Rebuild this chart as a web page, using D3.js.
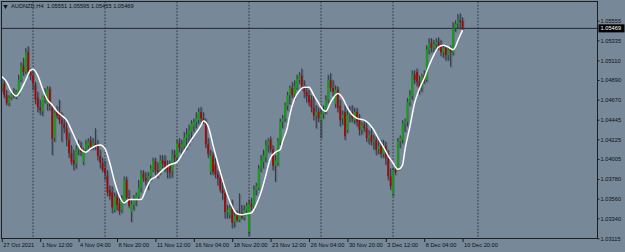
<!DOCTYPE html>
<html>
<head>
<meta charset="utf-8">
<script src="https://cdn.jsdelivr.net/npm/d3@7"></script>
<style>
  html, body { margin: 0; padding: 0; background: #778899; }
  svg { display: block; }
  text { font-family: "Liberation Sans", Arial, sans-serif; }
</style>
</head>
<body>
<svg id="chart" width="625" height="252"></svg>
<script>
// AUDNZD H4, one value per bar: bar 0 = 27 Oct 20:00 ... bar 192 = 10 Dec 20:00
const open = [
  1.0480,1.0485,1.0472,1.0463,1.0469,1.0473,1.0471,1.0476,1.0489,1.0505,
  1.0498,1.0520,1.0498,1.0494,1.0483,1.0469,1.0458,1.0454,1.0472,1.0462,
  1.0479,1.0458,1.0424,1.0455,1.0453,1.0444,1.0440,1.0435,1.0422,1.0407,
  1.0399,1.0395,1.0411,1.0415,1.0397,1.0411,1.0415,1.0421,1.0415,1.0418,
  1.0415,1.0404,1.0396,1.0390,1.0381,1.0366,1.0363,1.0343,1.0358,1.0350,
  1.0343,1.0352,1.0377,1.0357,1.0341,1.0349,1.0355,1.0358,1.0368,1.0384,
  1.0379,1.0377,1.0381,1.0388,1.0398,1.0388,1.0388,1.0399,1.0398,1.0390,
  1.0393,1.0387,1.0405,1.0402,1.0418,1.0413,1.0415,1.0424,1.0428,1.0431,
  1.0437,1.0442,1.0444,1.0453,1.0446,1.0441,1.0417,1.0386,1.0404,1.0394,
  1.0383,1.0379,1.0366,1.0362,1.0341,1.0338,1.0347,1.0330,1.0337,1.0332,
  1.0339,1.0335,1.0343,1.0319,1.0350,1.0347,1.0366,1.0368,1.0390,1.0397,
  1.0402,1.0416,1.0422,1.0411,1.0393,1.0396,1.0420,1.0442,1.0446,1.0460,
  1.0472,1.0480,1.0472,1.0480,1.0489,1.0494,1.0482,1.0476,1.0472,1.0467,
  1.0458,1.0449,1.0453,1.0444,1.0451,1.0455,1.0467,1.0489,1.0480,1.0462,
  1.0478,1.0460,1.0446,1.0453,1.0433,1.0450,1.0453,1.0444,1.0453,1.0444,
  1.0433,1.0439,1.0435,1.0424,1.0427,1.0420,1.0422,1.0411,1.0415,1.0406,
  1.0415,1.0402,1.0381,1.0361,1.0388,1.0390,1.0420,1.0422,1.0440,1.0442,
  1.0464,1.0471,1.0495,1.0498,1.0487,1.0480,1.0494,1.0489,1.0523,1.0530,
  1.0525,1.0529,1.0532,1.0527,1.0520,1.0525,1.0517,1.0523,1.0520,1.0547,
  1.0552,1.0556,1.05551
];
const high = [
  1.0491,1.0489,1.0478,1.0472,1.0476,1.0480,1.0478,1.0495,1.0509,1.0514,
  1.0525,1.0527,1.0502,1.0500,1.0487,1.0476,1.0467,1.0467,1.0480,1.0482,
  1.0482,1.0461,1.0455,1.0460,1.0467,1.0453,1.0446,1.0442,1.0430,1.0416,
  1.0411,1.0416,1.0422,1.0420,1.0413,1.0422,1.0424,1.0426,1.0424,1.0435,
  1.0422,1.0411,1.0402,1.0399,1.0388,1.0371,1.0370,1.0363,1.0366,1.0357,
  1.0360,1.0381,1.0381,1.0366,1.0355,1.0360,1.0363,1.0377,1.0388,1.0388,
  1.0386,1.0386,1.0394,1.0402,1.0402,1.0397,1.0405,1.0405,1.0405,1.0399,
  1.0399,1.0411,1.0411,1.0422,1.0424,1.0422,1.0431,1.0435,1.0439,1.0444,
  1.0446,1.0453,1.0458,1.0459,1.0453,1.0446,1.0424,1.0411,1.0408,1.0402,
  1.0388,1.0386,1.0375,1.0368,1.0349,1.0349,1.0355,1.0341,1.0343,1.0362,
  1.0349,1.0349,1.0352,1.0355,1.0357,1.0371,1.0374,1.0394,1.0405,1.0411,
  1.0422,1.0424,1.0426,1.0416,1.0405,1.0424,1.0446,1.0450,1.0464,1.0476,
  1.0483,1.0487,1.0489,1.0495,1.0498,1.0502,1.0489,1.0483,1.0478,1.0472,
  1.0472,1.0461,1.0458,1.0458,1.0461,1.0472,1.0495,1.0497,1.0489,1.0483,
  1.0482,1.0467,1.0455,1.0461,1.0455,1.0460,1.0461,1.0458,1.0458,1.0451,
  1.0442,1.0444,1.0442,1.0433,1.0435,1.0428,1.0426,1.0422,1.0422,1.0422,
  1.0420,1.0411,1.0390,1.0391,1.0394,1.0424,1.0427,1.0444,1.0446,1.0469,
  1.0478,1.0500,1.0500,1.0502,1.0494,1.0496,1.0500,1.0528,1.0536,1.0536,
  1.0534,1.0536,1.0537,1.0534,1.0529,1.0529,1.0527,1.0528,1.0554,1.0556,
  1.0563,1.0564,1.05595
];
const low = [
  1.0476,1.0469,1.0461,1.0460,1.0467,1.0469,1.0468,1.0472,1.0487,1.0494,
  1.0496,1.0494,1.0489,1.0478,1.0462,1.0453,1.0450,1.0449,1.0463,1.0455,
  1.0455,1.0405,1.0420,1.0446,1.0440,1.0420,1.0430,1.0415,1.0402,1.0394,
  1.0388,1.0390,1.0405,1.0404,1.0394,1.0408,1.0411,1.0411,1.0411,1.0411,
  1.0399,1.0390,1.0386,1.0377,1.0359,1.0355,1.0340,1.0341,1.0343,1.0338,
  1.0340,1.0350,1.0355,1.0346,1.0330,1.0343,1.0348,1.0355,1.0363,1.0375,
  1.0371,1.0366,1.0375,1.0386,1.0383,1.0379,1.0383,1.0390,1.0386,1.0379,
  1.0379,1.0380,1.0397,1.0397,1.0408,1.0405,1.0411,1.0411,1.0416,1.0422,
  1.0431,1.0435,1.0440,1.0442,1.0440,1.0413,1.0402,1.0383,1.0383,1.0379,
  1.0371,1.0363,1.0355,1.0334,1.0334,1.0334,1.0323,1.0324,1.0330,1.0330,
  1.0333,1.0332,1.0338,1.0315,1.0343,1.0344,1.0360,1.0366,1.0386,1.0390,
  1.0397,1.0408,1.0408,1.0388,1.0375,1.0393,1.0416,1.0435,1.0442,1.0455,
  1.0462,1.0469,1.0467,1.0478,1.0485,1.0478,1.0469,1.0464,1.0460,1.0453,
  1.0444,1.0435,1.0442,1.0424,1.0446,1.0451,1.0463,1.0476,1.0471,1.0458,
  1.0453,1.0437,1.0439,1.0422,1.0430,1.0442,1.0442,1.0440,1.0437,1.0427,
  1.0428,1.0431,1.0420,1.0417,1.0416,1.0411,1.0405,1.0406,1.0402,1.0402,
  1.0394,1.0377,1.0366,1.0359,1.0383,1.0388,1.0413,1.0418,1.0431,1.0437,
  1.0460,1.0467,1.0485,1.0482,1.0473,1.0476,1.0485,1.0487,1.0518,1.0520,
  1.0520,1.0523,1.0523,1.0516,1.0514,1.0511,1.0511,1.0504,1.0517,1.0543,
  1.0547,1.0547,1.05455
];
const close = [
  1.0487,1.0472,1.0463,1.0469,1.0473,1.0471,1.0476,1.0489,1.0505,1.0498,
  1.0520,1.0498,1.0494,1.0485,1.0467,1.0458,1.0455,1.0472,1.0469,1.0479,
  1.0460,1.0423,1.0452,1.0449,1.0444,1.0440,1.0435,1.0422,1.0407,1.0397,
  1.0395,1.0411,1.0415,1.0408,1.0411,1.0417,1.0420,1.0414,1.0418,1.0415,
  1.0404,1.0396,1.0388,1.0384,1.0363,1.0359,1.0346,1.0358,1.0349,1.0342,
  1.0355,1.0377,1.0357,1.0348,1.0350,1.0356,1.0360,1.0368,1.0384,1.0379,
  1.0376,1.0381,1.0390,1.0398,1.0388,1.0386,1.0399,1.0395,1.0390,1.0388,
  1.0385,1.0405,1.0402,1.0418,1.0413,1.0417,1.0425,1.0428,1.0433,1.0440,
  1.0442,1.0446,1.0453,1.0446,1.0443,1.0417,1.0406,1.0404,1.0386,1.0383,
  1.0379,1.0366,1.0362,1.0341,1.0343,1.0346,1.0329,1.0337,1.0332,1.0339,
  1.0335,1.0343,1.0348,1.0350,1.0347,1.0366,1.0370,1.0390,1.0399,1.0404,
  1.0416,1.0420,1.0411,1.0393,1.0399,1.0421,1.0442,1.0446,1.0461,1.0472,
  1.0480,1.0472,1.0482,1.0490,1.0494,1.0482,1.0476,1.0471,1.0464,1.0458,
  1.0449,1.0453,1.0446,1.0451,1.0455,1.0467,1.0489,1.0480,1.0476,1.0478,
  1.0458,1.0444,1.0450,1.0426,1.0450,1.0453,1.0446,1.0453,1.0442,1.0433,
  1.0439,1.0435,1.0424,1.0427,1.0420,1.0422,1.0411,1.0415,1.0406,1.0415,
  1.0402,1.0381,1.0370,1.0388,1.0386,1.0420,1.0424,1.0440,1.0443,1.0464,
  1.0472,1.0495,1.0489,1.0487,1.0480,1.0494,1.0489,1.0523,1.0530,1.0525,
  1.0529,1.0532,1.0527,1.0520,1.0525,1.0517,1.0523,1.0520,1.0547,1.0552,
  1.0556,1.0554,1.05469
];

// white moving average, sampled at these bars
const maBars = [0,2,4,6,8,10,12,13,15,17,19,21,23,25,27,29,31,33,35,37,39,41,43,45,47,49,51,53,56,58,
  60,62,64,67,70,73,75,78,81,83,84,86,88,90,92,94,96,98,100,102,104,106,108,110,112,114,116,117,119,120,
  122,124,126,128,130,132,134,135,137,139,140,142,144,146,148,151,153,155,157,159,161,163,165,166,167,168,
  170,172,174,176,178,180,182,184,186,188,189,190,192];
const maValues = [1.0493,1.0487,1.0476,1.0471,1.0478,1.0489,1.0500,1.0501,1.0494,1.0479,1.0467,1.0461,1.0454,1.0449,1.0444,1.0433,1.0421,1.0411,1.0408,1.0412,
  1.0415,1.0416,1.0412,1.0396,1.0375,1.0359,1.0351,1.0355,1.0355,1.0355,
  1.0366,1.0377,1.0380,1.0388,1.0394,1.0397,1.0405,1.0418,1.0430,1.0438,1.0443,1.0437,1.0416,1.0396,1.0377,1.0360,1.0347,1.0339,1.0338,1.0339,
  1.0340,1.0349,1.0363,1.0382,1.0402,1.0408,1.0411,1.0420,1.0436,1.0450,
  1.0468,1.0477,1.0481,1.0481,1.0472,1.0463,1.0455,1.0454,1.0464,1.0472,1.0474,1.0469,1.0458,1.0450,1.0446,1.0444,1.0440,1.0433,1.0423,1.0414,
  1.0404,1.0396,1.0389,1.0390,1.0394,1.0411,
  1.0436,1.0463,1.0479,1.0491,1.0505,1.0517,1.0526,1.0528,1.0526,1.0523,1.0526,1.0533,1.0545];

const priceTicks = [1.05555, 1.05335, 1.05110, 1.04890, 1.04670, 1.04445,
  1.04225, 1.04005, 1.03780, 1.03560, 1.03340, 1.03115];
const timeTickBars = [0, 16, 32, 48, 64, 80, 96, 112, 128, 144, 160, 176, 192];
const timeTickLabels = ["27 Oct 2021", "1 Nov 12:00", "4 Nov 04:00", "8 Nov 20:00",
  "11 Nov 12:00", "16 Nov 04:00", "18 Nov 20:00", "23 Nov 12:00", "26 Nov 04:00",
  "30 Nov 20:00", "3 Dec 12:00", "8 Dec 04:00", "10 Dec 20:00"];
// period separators (last one sits in the empty shift area, right of the last bar)
const separatorBars = [13, 43, 73, 103, 133, 163, 198.4];
const symbolName = "AUDNZD,H4";

const svg = d3.select("#chart");
const W = 625, H = 252;
const plot = { left: 1.5, top: 1.5, right: 597.5, bottom: 238.5 };
const fs = 5.7;

const bars = d3.range(close.length);
const last = close.length - 1;

const x = d3.scaleLinear().domain([0, last]).range([1.8, 462.6]);
const y = d3.scaleLinear().domain([1.03115, 1.05555]).range([238.3, 20.7]);

svg.append("rect").attr("width", W).attr("height", H).attr("fill", "#778899");

svg.append("defs").append("clipPath").attr("id", "plotclip")
  .append("rect")
  .attr("x", plot.left).attr("y", plot.top)
  .attr("width", plot.right - plot.left).attr("height", plot.bottom - plot.top);

const g = svg.append("g").attr("clip-path", "url(#plotclip)");

// period separators
g.selectAll("line.sep")
  .data(separatorBars)
  .join("line")
  .attr("class", "sep")
  .attr("x1", d => x(d)).attr("x2", d => x(d))
  .attr("y1", plot.top).attr("y2", plot.bottom)
  .attr("stroke", "#2b2f36")
  .attr("stroke-width", 0.9)
  .attr("stroke-dasharray", "1.6,1.6");

// bid line
g.append("line")
  .attr("x1", plot.left).attr("x2", plot.right)
  .attr("y1", y(close[last])).attr("y2", y(close[last]))
  .attr("stroke", "#23272d")
  .attr("stroke-width", 1);

// candles
const candle = g.selectAll("g.candle")
  .data(bars)
  .join("g")
  .attr("class", "candle");

// soft grey ghost behind each bar
candle.append("rect")
  .attr("x", i => x(i) - 0.2)
  .attr("y", i => y(high[i]) + 1)
  .attr("width", 2)
  .attr("height", i => Math.max(1, y(low[i]) - y(high[i])))
  .attr("fill", "rgba(60,66,76,0.35)");

candle.append("line")
  .attr("x1", i => x(i)).attr("x2", i => x(i))
  .attr("y1", i => y(high[i])).attr("y2", i => y(low[i]))
  .attr("stroke", "#262a30")
  .attr("stroke-width", 0.8);

candle.append("rect")
  .attr("x", i => x(i) - 0.9)
  .attr("y", i => y(Math.max(open[i], close[i])))
  .attr("width", 1.8)
  .attr("height", i => Math.max(0.8, Math.abs(y(open[i]) - y(close[i]))))
  .attr("fill", i => close[i] >= open[i] ? "#13a013" : "#9e0a0a");

// moving average
const maLine = d3.line()
  .x((d, k) => x(maBars[k]))
  .y(d => y(d))
  .curve(d3.curveMonotoneX);

g.append("path")
  .datum(maValues)
  .attr("d", maLine)
  .attr("fill", "none")
  .attr("stroke", "#ffffff")
  .attr("stroke-width", 1.5);

// frame
svg.append("rect")
  .attr("x", plot.left).attr("y", plot.top)
  .attr("width", plot.right - plot.left).attr("height", plot.bottom - plot.top)
  .attr("fill", "none")
  .attr("stroke", "#1a1d22")
  .attr("stroke-width", 1);

// price axis
const yAxis = svg.append("g")
  .attr("transform", `translate(${plot.right},0)`)
  .call(d3.axisRight(y)
    .tickValues(priceTicks)
    .tickFormat(d3.format(".5f"))
    .tickSize(2)
    .tickPadding(1));
yAxis.select(".domain").remove();
yAxis.selectAll(".tick line").attr("stroke", "#1a1d22");
yAxis.selectAll(".tick text")
  .attr("fill", "#111")
  .style("font-size", fs + "px")
  .style("font-family", "'Liberation Sans', Arial, sans-serif");

// time axis
const xAxis = svg.append("g")
  .attr("transform", `translate(0,${plot.bottom})`)
  .call(d3.axisBottom(x)
    .tickValues(timeTickBars)
    .tickFormat((d, k) => timeTickLabels[k])
    .tickSize(3.5)
    .tickPadding(0.5));
xAxis.select(".domain").remove();
xAxis.selectAll(".tick line").attr("stroke", "#1a1d22");
xAxis.selectAll(".tick text")
  .attr("text-anchor", "start")
  .attr("dx", 1)
  .attr("fill", "#111")
  .style("font-size", fs + "px")
  .style("font-family", "'Liberation Sans', Arial, sans-serif");

// current price tag
const py = y(close[last]);
svg.append("rect")
  .attr("x", 598.5).attr("y", py - 4)
  .attr("width", 26).attr("height", 8)
  .attr("fill", "#000");
svg.append("text")
  .attr("x", 600.5).attr("y", py)
  .attr("dy", "0.35em")
  .attr("fill", "#fff")
  .style("font-size", fs + "px")
  .text(d3.format(".5f")(close[last]));

// title
svg.append("path")
  .attr("d", d3.symbol(d3.symbolTriangle, 9)())
  .attr("transform", "translate(5.5,6.3) rotate(180)")
  .attr("fill", "#111");
const f5 = d3.format(".5f");
svg.append("text")
  .attr("x", 11).attr("y", 8.3)
  .attr("fill", "#111")
  .style("font-size", fs + "px")
  .text(`${symbolName}  ${f5(open[last])} ${f5(high[last])} ${f5(low[last])} ${f5(close[last])}`)
  .attr("xml:space", "preserve");
</script>
</body>
</html>
